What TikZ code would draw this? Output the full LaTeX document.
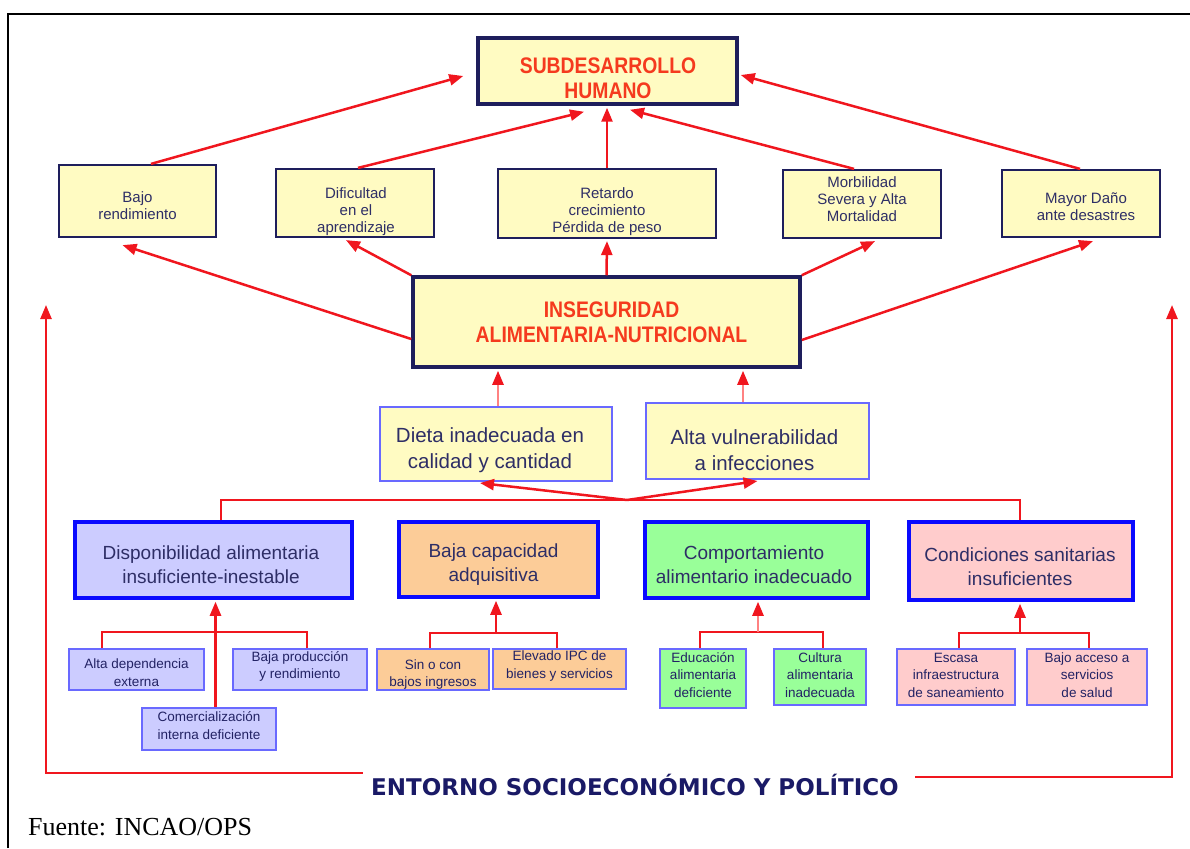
\documentclass[tikz,border=0pt]{standalone}
\usepackage{fontspec}
\setmainfont{Liberation Sans}
\newfontfamily\titlefont[FakeStretch=0.86]{Liberation Sans}
\newfontfamily\entornofont{DejaVu Sans}
\newfontfamily\sourcefont{Liberation Serif}
\usetikzlibrary{arrows.meta,calc}

\definecolor{linkred}{RGB}{240,22,30}
\definecolor{softred}{RGB}{255,130,130}
\definecolor{navyline}{RGB}{30,30,92}
\definecolor{navytext}{RGB}{46,46,102}
\definecolor{leaftext}{RGB}{34,34,100}
\definecolor{titlered}{RGB}{245,58,30}
\definecolor{paleyellow}{RGB}{255,251,194}
\definecolor{midblue}{RGB}{105,105,255}
\definecolor{pureblue}{RGB}{10,10,255}
\definecolor{lavender}{RGB}{204,204,255}
\definecolor{peach}{RGB}{252,204,152}
\definecolor{mint}{RGB}{153,255,153}
\definecolor{rose}{RGB}{255,204,204}
\definecolor{entornoblue}{RGB}{26,26,102}

\begin{document}
\begin{tikzpicture}[x=1pt, y=-1pt,
  frame/.style={draw=black, line width=2pt},
  titlebox/.style={draw=navyline, line width=3.5pt, fill=paleyellow, inner sep=0pt},
  effectbox/.style={draw=navyline, line width=2.2pt, fill=paleyellow, inner sep=0pt},
  causebox/.style={draw=midblue, line width=2pt, fill=paleyellow, inner sep=0pt},
  catbox/.style={draw=pureblue, line width=3.5pt, inner sep=0pt},
  leafbox/.style={draw=midblue, line width=1.8pt, inner sep=0pt},
  titletext/.style={align=center, inner sep=0pt, text=titlered,
    font=\titlefont\bfseries\fontsize{22.5}{25}\selectfont},
  effecttext/.style={align=center, inner sep=0pt, text=navytext,
    font=\fontsize{15}{17}\selectfont},
  causetext/.style={align=center, inner sep=0pt, text=navytext,
    font=\fontsize{20.5}{26}\selectfont},
  cattext/.style={align=center, inner sep=0pt, text=navytext,
    font=\fontsize{19}{24}\selectfont},
  leaftext/.style={align=center, inner sep=0pt, text=leaftext,
    font=\fontsize{13.5}{17.5}\selectfont},
  link/.style={draw=linkred, line width=2.5pt},
  softlink/.style={draw=softred, line width=2.5pt},
  tip/.style={-{Triangle[length=14pt,width=11pt,color=linkred]}},
]
\useasboundingbox (0,0) rectangle (1190,848);

% outer frame (left and top edges)
\draw[frame] (7.5,848) -- (7.5,14) -- (1190,14);

% ---------- top outcome ----------
\node[titlebox, minimum width=259pt, minimum height=66pt] (subdes) at (607.5,71) {};
\node[titletext] (subdes-t) at ($(subdes)+(0.5,7.5)$) {SUBDESARROLLO\\HUMANO};

% ---------- consequences ----------
\node[effectbox, minimum width=157pt, minimum height=72pt] (bajo) at (137.5,201) {};
\node[effecttext] (bajo-t) at ($(bajo)+(0,5)$) {Bajo\\rendimiento};

\node[effectbox, minimum width=158pt, minimum height=68pt] (dif) at (355,203) {};
\node[effecttext] (dif-t) at ($(dif)+(1,8.5)$) {Dificultad\\en el\\aprendizaje};

\node[effectbox, minimum width=218pt, minimum height=69pt] (ret) at (607,203.5) {};
\node[effecttext] (ret-t) at ($(ret)+(0,8)$) {Retardo\\crecimiento\\Pérdida de peso};

\node[effectbox, minimum width=158pt, minimum height=68pt] (morb) at (862,204) {};
\node[effecttext] (morb-t) at ($(morb)+(0,-5)$) {Morbilidad\\Severa y Alta\\Mortalidad};

\node[effectbox, minimum width=158pt, minimum height=67pt] (mayor) at (1081,203.5) {};
\node[effecttext] (mayor-t) at ($(mayor)+(5,3.5)$) {Mayor Daño\\ante desastres};

% ---------- central problem ----------
\node[titlebox, minimum width=387pt, minimum height=90pt] (ins) at (606.5,322) {};
\node[titletext] (ins-t) at ($(ins)+(5,0)$) {INSEGURIDAD\\ALIMENTARIA-NUTRICIONAL};

% ---------- immediate causes ----------
\node[causebox, minimum width=232pt, minimum height=74pt] (dieta) at (496,444) {};
\node[causetext] (dieta-t) at ($(dieta)+(-6,6.5)$) {Dieta inadecuada en\\calidad y cantidad};

\node[causebox, minimum width=223pt, minimum height=76pt] (alta) at (757.5,441) {};
\node[causetext] (alta-t) at ($(alta)+(-3,9.5)$) {Alta vulnerabilidad\\a infecciones};

% ---------- underlying causes ----------
\node[catbox, fill=lavender, minimum width=277pt, minimum height=76pt] (disp) at (213.5,560) {};
\node[cattext] (disp-t) at ($(disp)+(-2.5,5)$) {Disponibilidad alimentaria\\insuficiente-inestable};

\node[catbox, fill=peach, minimum width=199pt, minimum height=75pt] (bcap) at (498.5,559.5) {};
\node[cattext] (bcap-t) at ($(bcap)+(-5,5)$) {Baja capacidad\\adquisitiva};

\node[catbox, fill=mint, minimum width=223pt, minimum height=76pt] (comp) at (756.5,560) {};
\node[cattext] (comp-t) at ($(comp)+(-2.5,5)$) {Comportamiento\\alimentario inadecuado};

\node[catbox, fill=rose, minimum width=224pt, minimum height=78pt] (cond) at (1021,561) {};
\node[cattext] (cond-t) at ($(cond)+(-1,6)$) {Condiciones sanitarias\\insuficientes};

% ---------- basic causes ----------
\node[leafbox, fill=lavender, minimum width=135pt, minimum height=41pt] (adep) at (136.5,669.5) {};
\node[leaftext] (adep-t) at ($(adep)+(0,3)$) {Alta dependencia\\externa};

\node[leafbox, fill=lavender, minimum width=134pt, minimum height=41pt] (bprod) at (300,669.5) {};
\node[leaftext] (bprod-t) at ($(bprod)+(0,-3)$) {Baja producción\\y rendimiento};

\node[leafbox, fill=lavender, minimum width=134pt, minimum height=42pt] (comer) at (209,729) {};
\node[leaftext] (comer-t) at ($(comer)+(0,-3.5)$) {Comercialización\\interna deficiente};

\node[leafbox, fill=peach, minimum width=112pt, minimum height=41pt] (sinc) at (433,669.5) {};
\node[leaftext] (sinc-t) at ($(sinc)+(0,5)$) {Sin o con\\bajos ingresos};

\node[leafbox, fill=peach, minimum width=133pt, minimum height=40pt] (elev) at (559.5,669) {};
\node[leaftext] (elev-t) at ($(elev)+(0,-3)$) {Elevado IPC de\\bienes y servicios};

\node[leafbox, fill=mint, minimum width=86pt, minimum height=59pt] (edu) at (703,678.5) {};
\node[leaftext] (edu-t) at ($(edu)+(0,-3.5)$) {Educación\\alimentaria\\deficiente};

\node[leafbox, fill=mint, minimum width=92pt, minimum height=56pt] (cult) at (820,677) {};
\node[leaftext] (cult-t) at ($(cult)+(0,-2)$) {Cultura\\alimentaria\\inadecuada};

\node[leafbox, fill=rose, minimum width=118pt, minimum height=56pt] (esc) at (956,677) {};
\node[leaftext] (esc-t) at ($(esc)+(0,-2)$) {Escasa\\infraestructura\\de saneamiento};

\node[leafbox, fill=rose, minimum width=120pt, minimum height=56pt] (bacc) at (1087,677) {};
\node[leaftext] (bacc-t) at ($(bacc)+(0,-2)$) {Bajo acceso a\\servicios\\de salud};

% ---------- context and source ----------
\node[inner sep=0pt, text=entornoblue, font=\entornofont\bfseries\fontsize{23}{27}\selectfont]
  (env) at (635,785) {ENTORNO SOCIOECONÓMICO Y POLÍTICO};
\node[inner sep=0pt, anchor=base west, font=\sourcefont\fontsize{26}{30}\selectfont]
  (src) at (28,835) {Fuente: INCAO/OPS};

% ---------- consequences -> human underdevelopment ----------
\draw[link,tip] ($(bajo.north)+(13.5,0)$) -- ($(subdes.west)+(-13,5)$);
\draw[link,tip] ($(dif.north)+(3,0)$) -- ($(subdes.south)+(-23.5,6)$);
\draw[link,tip] (ret.north) -- ($(ret.north |- subdes.south)+(0,2)$);
\draw[link,tip] ($(morb.north)+(-8,0)$) -- ($(subdes.south)+(22.5,4)$);
\draw[link,tip] ($(mayor.north)+(-1,0)$) -- ($(subdes.east)+(2,4)$);

% ---------- insecurity -> consequences ----------
\draw[link,tip] ($(ins.west)+(0,17)$) -- ($(bajo.south)+(-15,7)$);
\draw[link,tip] (ins.north west) -- ($(dif.south)+(-9,2)$);
\draw[link,tip] (ins.north) -- ($(ret.south)+(0,2)$);
\draw[link,tip] (ins.north east) -- ($(morb.south)+(13,2)$);
\draw[link,tip] ($(ins.east)+(0,18)$) -- ($(mayor.south)+(12,3)$);

% ---------- immediate causes -> insecurity ----------
\coordinate (dTop) at ($(dieta.north)+(2,0)$);
\coordinate (aTop) at ($(alta.north)+(-14.5,0)$);
\draw[softlink,tip] (dTop) -- ($(dTop |- ins.south)+(0,2)$);
\draw[softlink,tip] (aTop) -- ($(aTop |- ins.south)+(0,2)$);

% ---------- underlying causes -> immediate causes ----------
\coordinate (jn) at (627,500);
\draw[link] ($(disp.north)+(7.5,0)$) |- (jn) -| ($(cond.north)+(-1,0)$);
\draw[link,tip] (jn) -- ($(dieta.south)+(-16,1)$);
\draw[link,tip] (jn) -- ($(alta.south)+(0,1)$);

% ---------- basic causes -> underlying causes ----------
\coordinate (b1) at (215,632);
\draw[link] ($(adep.north)+(-34.5,0)$) |- (b1) -| ($(bprod.north)+(7,0)$);
\coordinate (cStem) at ($(comer.north)+(6.5,0)$);
\draw[link,tip] (cStem) -- ($(cStem |- disp.south)+(0,2)$);

\coordinate (b2) at (496,633);
\draw[link] ($(sinc.north)+(-3,0)$) |- (b2) -| ($(elev.north)+(-2.5,0)$);
\draw[link,tip] (b2) -- ($(b2 |- bcap.south)+(0,2)$);

\coordinate (b3) at (758,632);
\draw[link] ($(edu.north)+(-3,0)$) |- (b3) -| ($(cult.north)+(3,0)$);
\draw[softlink,tip] (b3) -- ($(b3 |- comp.south)+(0,2)$);

\coordinate (b4) at (1020,633);
\draw[link] ($(esc.north)+(3,0)$) |- (b4) -| ($(bacc.north)+(2,0)$);
\draw[link,tip] (b4) -- ($(b4 |- cond.south)+(0,2)$);

% ---------- context feedback ----------
\coordinate (upL) at (46,305);
\coordinate (upR) at (1172,305);
\draw[link,tip] ($(env.west)+(-8,-12)$) -| (upL);
\draw[link,tip] ($(env.east)+(16,-8)$) -| (upR);
\end{tikzpicture}
\end{document}
